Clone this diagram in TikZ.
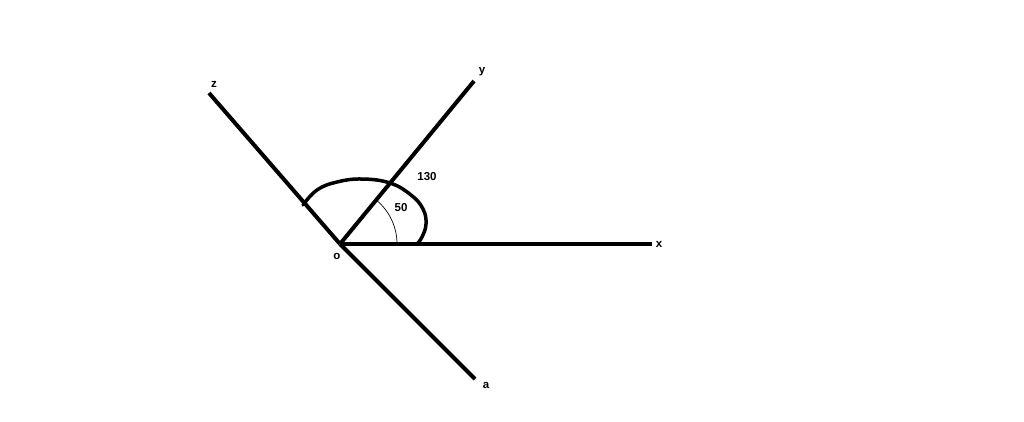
\documentclass[tikz,border=0pt]{standalone}
\usepackage{fontspec}
\setmainfont{Liberation Sans}
\begin{document}
\begin{tikzpicture}[x=1pt,y=-1pt,
  ray/.style={line width=4pt},
  lbl/.style={font=\fontsize{11.5}{13}\selectfont\bfseries, inner sep=0pt}]
\useasboundingbox (0,0) rectangle (1024,421);
\coordinate (O) at (340,244);
\coordinate (X) at (652,244);
\coordinate (Y) at (474,81);
\coordinate (Z) at (209,93);
\coordinate (A) at (475,379);
\draw[ray] (O) -- (X);
\draw[ray] (O) -- (Y);
\draw[ray] (O) -- (Z);
\draw[ray] (O) -- (A);
% thin 50 arc
\draw[line width=0.7pt] (397,244) arc[start angle=0, end angle=-50.6, radius=57];
% thick 130 curve
\draw[line width=3.5pt, line cap=round] plot[smooth, tension=0.7] coordinates
  {(303,205) (317,190) (337,182) (362,179) (390,183) (411,195) (423,209) (426,224) (422,237) (417,244)};
\node[lbl] (lx) at (659,244) {x};
\node[lbl] (ly) at (482,72) {y};
\node[lbl] (lz) at (214,84) {z};
\node[lbl] (la) at (486,385) {a};
\node[lbl] (lo) at (337,256) {o};
\node[lbl] (l130) at (427,177) {130};
\node[lbl] (l50) at (401,208) {50};
\end{tikzpicture}
\end{document}
